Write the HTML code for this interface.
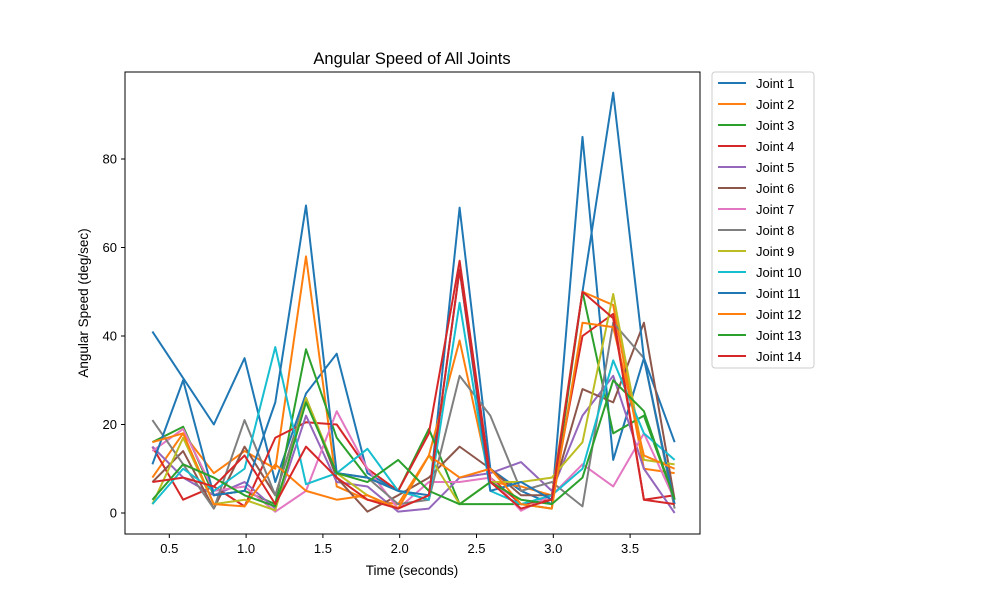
<!DOCTYPE html>
<html><head><meta charset="utf-8"><style>body{margin:0;background:#fff}svg{font-family:"Liberation Sans","DejaVu Sans",sans-serif}</style></head>
<body>
<svg id="chart" width="1000" height="600" xmlns="http://www.w3.org/2000/svg">
<rect width="1000" height="600" fill="#fff"/>
<text x="412" y="64" font-size="16.5" text-anchor="middle">Angular Speed of All Joints</text>
<text x="412" y="575" font-size="13.5" text-anchor="middle">Time (seconds)</text>
<text transform="translate(88,303) rotate(-90)" font-size="13.5" text-anchor="middle">Angular Speed (deg/sec)</text>
<g id="grid"></g><g id="series"></g>
<rect x="125" y="72" width="575" height="462" fill="none" stroke="#000" stroke-width="1"/>
<g id="legend"></g>
</svg>
<script>
const times = [0.39,0.59,0.79,0.99,1.19,1.39,1.59,1.79,1.99,2.19,2.39,2.59,2.79,2.99,3.19,3.39,3.59,3.79];
const xTicks = [0.5,1.0,1.5,2.0,2.5,3.0,3.5];
const yTicks = [0,20,40,60,80];
const seriesNames = ["Joint 1","Joint 2","Joint 3","Joint 4","Joint 5","Joint 6","Joint 7","Joint 8","Joint 9","Joint 10","Joint 11","Joint 12","Joint 13","Joint 14"];
const colors = ["#1f77b4","#ff7f0e","#2ca02c","#d62728","#9467bd","#8c564b","#e377c2","#7f7f7f","#bcbd22","#17becf","#1f77b4","#ff7f0e","#2ca02c","#d62728"];
const j1  = [41,30.5,20,35,7,27,36,9,5,3,69,10,5,2,85,12,35,16];
const j2  = [8,18,9,14,10,58,6,3,2,13,39,7,6,4,50,47,10,9];
const j3  = [16,19.5,4,5,2,37,17,8,5,19,2,2,2,1,50,18,22,3];
const j4  = [15,3,6,1.5,17,20.5,20,10,5,18,57,8,2,3,40,45,3,4];
const j5  = [15,8,4,7,1,22,7,6,0.3,1,8,9,11.5,5,22,31,10,0];
const j6  = [7,14,1,15,4,26,8,0.3,4,8,15,10,4,4,28,25,43,3];
const j7  = [14,19,5,6,0.3,5,23,10,1,7,7,8,0.5,4,11,6,18,3];
const j8  = [21,11,1,21,4,26,9,8,2,3,31,22,5,7,1.5,43,35,1];
const j9  = [2,17,2,3,0.6,26,9,4,1,13,2,7,7,8,16,49.5,12,11];
const j10 = [2,10,5,10,37.5,6.5,9,14.5,5,3,47.5,5,2,4,10,34.5,18,12];
const j11 = [11,30,4,5,25,69.5,9,8,5,4,55,5,7,3,50,95,35,2];
const j12 = [16,18,2,1.5,11,5,3,4,1,13,8,10,2,1,43,42,13,10];
const j13 = [3,11,8,4,1.5,25,9,7,12,5,2,7,3,2,8,30,23,3];
const j14 = [7,8,6,13,2,15,8,3,1,4,55,7,1,3,50,44,3,2];
const allSeries = [j1,j2,j3,j4,j5,j6,j7,j8,j9,j10,j11,j12,j13,j14];

const NS="http://www.w3.org/2000/svg";
const xs = v => 92.5 + v*153.6;
const ys = v => 513 - v*4.425;
function mk(tag, attrs, parent){const e=document.createElementNS(NS,tag);for(const k in attrs)e.setAttribute(k,attrs[k]);parent.appendChild(e);return e;}
const grid=document.getElementById('grid'), ser=document.getElementById('series'), leg=document.getElementById('legend');
xTicks.forEach(t=>{
  const l=mk('line',{x1:xs(t),x2:xs(t),y1:534,y2:538,stroke:'#000'},grid);
  
  
  const tx=mk('text',{x:xs(t),y:553,'font-size':13,'text-anchor':'middle'},grid);
  tx.textContent=t.toFixed(1);
  
  
});
yTicks.forEach(t=>{
  const l=mk('line',{x1:121,x2:125,y1:ys(t),y2:ys(t),stroke:'#000'},grid);
  
  
  const tx=mk('text',{x:117,y:ys(t)+4.5,'font-size':13,'text-anchor':'end'},grid);
  tx.textContent=t;
  
  
});
allSeries.forEach((vals,i)=>{
  const p=mk('polyline',{points:vals.map((v,k)=>xs(times[k])+','+ys(v)).join(' '),fill:'none',stroke:colors[i],'stroke-width':2,'stroke-linejoin':'round'},ser);
  
  
});
const box=mk('rect',{x:712,y:72,width:102,height:296,rx:3,fill:'#fff',stroke:'#ccc'},leg);


seriesNames.forEach((n,i)=>{
  const y=83+i*21;
  const l=mk('line',{x1:718,x2:746,y1:y,y2:y,stroke:colors[i],'stroke-width':2},leg);
  
  
  const t=mk('text',{x:756,y:y+5,'font-size':13},leg);
  t.textContent=n;
  
  
});
</script>
</body></html>
